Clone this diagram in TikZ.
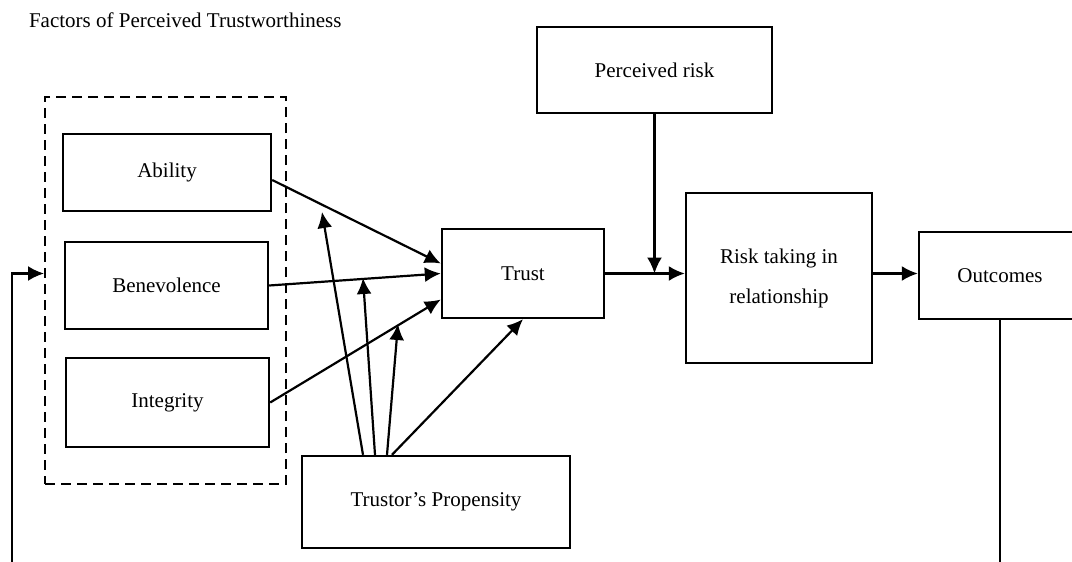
\documentclass[tikz,border=0pt]{standalone}
\usepackage{fontspec}
\setmainfont{Liberation Serif}
\usepackage{tikz}
\usetikzlibrary{arrows.meta}
\tikzset{>={Latex[length=8pt,width=7.5pt]}}
\tikzset{
  box/.style={draw, line width=1.2pt, align=center, inner sep=0pt, font=\fontsize{10.5}{12.6}\selectfont},
  link/.style={->, line width=1.1pt}
}

\begin{document}
\begin{tikzpicture}[x=0.5pt, y=-0.5pt]
        \useasboundingbox (0,0) rectangle (1072,562);
        \clip (0,0) rectangle (1072,562);
        \node [anchor=west, font=\fontsize{10.5}{12.6}\selectfont] (title) at (22,20) {Factors of Perceived Trustworthiness};
        \node [draw, dash pattern=on 5pt off 3pt, line width=1pt, minimum width=120.5pt, minimum height=193.5pt] (factors) at (165.5,290.5) {};
        \node [box, minimum width=104pt, minimum height=38.5pt] (ab) at (167,172.5) {Ability};
        \node [box, minimum width=101.5pt, minimum height=43.5pt] (ben) at (166.5,285.5) {Benevolence};
        \node [box, minimum width=101.5pt, minimum height=44.5pt] (integ) at (167.5,402.5) {Integrity};
        \node [box, minimum width=81pt, minimum height=44.5pt] (trust) at (523,273.5) {Trust};
        \node [box, minimum width=117.5pt, minimum height=43pt] (prisk) at (654.5,70) {Perceived risk};
        \node [box, minimum width=93pt, minimum height=85pt, font=\fontsize{10.5}{20}\selectfont] (risk) at (779,278) {Risk taking in\\relationship};
        \node [box, minimum width=81pt, minimum height=43.5pt] (out) at (1000,275.5) {Outcomes};
        \node [box, minimum width=134pt, minimum height=46pt] (prop) at (436,502) {Trustor’s Propensity};
        \coordinate (m1) at (322,212);
        \coordinate (m2) at (363,278);
        \coordinate (m3) at (398,324);
        \coordinate (fb) at (12,590);
        \draw [link] ([yshift=-3.75pt]ab.east) -- ([yshift=5pt]trust.west);
        \draw [link] (ben.east) -- (trust.west);
        \draw [link] (integ.east) -- ([yshift=-13pt]trust.west);
        \draw [link] ([xshift=-36.5pt]prop.north) -- (m1);
        \draw [link] ([xshift=-30.5pt]prop.north) -- (m2);
        \draw [link] ([xshift=-24.5pt]prop.north) -- (m3);
        \draw [link] ([xshift=-22pt]prop.north) -- (trust.south);
        \draw [link] (trust.east) -- (trust.east -| risk.west);
        \draw [link] (prisk.south) -- (prisk.south |- trust.east);
        \draw [link] (trust.east -| risk.east) -- (trust.east -| out.west);
        \draw [link] (out.south) |- (fb) |- (factors.west |- trust.east);
    \end{tikzpicture}
\end{document}
